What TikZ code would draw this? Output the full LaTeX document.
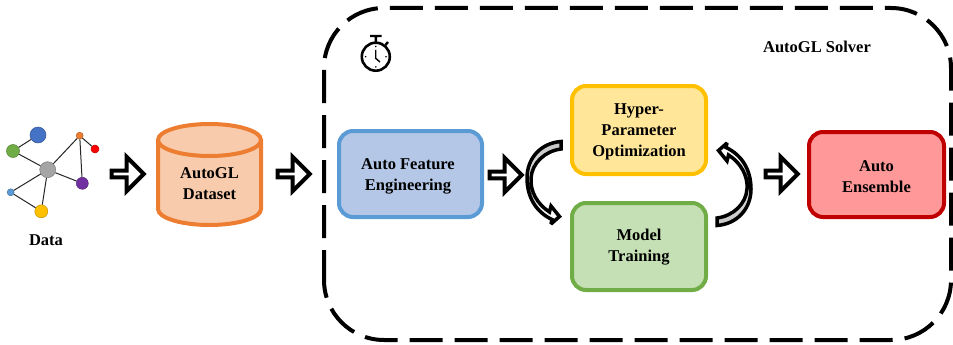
\documentclass[tikz,border=0pt]{standalone}
\usepackage{fontspec}
\setmainfont{Liberation Serif}
\usetikzlibrary{shapes.arrows}
\definecolor{gblue}{HTML}{4472C4}
\definecolor{ggreen}{HTML}{70AD47}
\definecolor{ggray}{HTML}{A5A5A5}
\definecolor{gorange}{HTML}{ED7D31}
\definecolor{gyellow}{HTML}{FFC000}
\definecolor{gpurple}{HTML}{7030A0}
\definecolor{gsky}{HTML}{5B9BD5}
\definecolor{cylfill}{HTML}{F8CBAD}
\definecolor{fblue}{HTML}{B4C7E7}
\definecolor{fyellow}{HTML}{FFE699}
\definecolor{fgreen}{HTML}{C5E0B4}
\definecolor{fred}{HTML}{FF9999}
\definecolor{bred}{HTML}{C00000}
\tikzset{
  lbl/.style={font=\fontsize{16.5}{21}\selectfont\bfseries, align=center, text=black, inner sep=0pt},
  gnode/.style={circle, draw=#1!75!black, fill=#1, line width=0.5pt, inner sep=0pt},
  gedge/.style={draw=black!85, line width=1pt},
  procbox/.style={rounded corners=14pt, line width=4pt, inner sep=0pt},
  blockarrow/.style={single arrow, draw=black, fill=white, line width=4pt, inner sep=0pt, outer sep=0pt,
    minimum height=32pt, minimum width=34pt, single arrow head extend=8pt, single arrow head indent=0pt},
  curvearrow/.style={draw=black, line width=3.5pt, line join=miter, miter limit=3},
}
\begin{document}
\begin{tikzpicture}[x=1pt,y=-1pt]
\useasboundingbox (0,0) rectangle (953,345);
% dashed frame
\draw[line width=4pt, dash pattern=on 33pt off 12pt, dash phase=3pt, rounded corners=60pt] (324,340) -- (324,8) -- (951,8) -- (951,340) -- cycle;
% network
\node[gnode=gblue, minimum size=16pt] (n1) at (38,135) {};
\node[gnode=ggreen, minimum size=13pt] (n2) at (13,151) {};
\node[gnode=ggray, minimum size=16pt] (n3) at (47.7,169.7) {};
\node[gnode=gorange, minimum size=7pt] (n4) at (79.7,135.7) {};
\node[gnode=red, minimum size=8pt] (n5) at (95,149) {};
\node[gnode=gpurple, minimum size=12pt] (n6) at (82.3,183.3) {};
\node[gnode=gsky, minimum size=7pt] (n7) at (10.7,192.3) {};
\node[gnode=gyellow, minimum size=13pt] (n8) at (41.3,211.3) {};
\draw[gedge] (n1)--(n2) (n2)--(n3) (n3)--(n4) (n4)--(n5) (n4)--(n6) (n3)--(n6) (n3)--(n7) (n3)--(n8) (n7)--(n8);
\node[lbl] (data) at (46,240) {Data};
% cylinder
\draw[gorange, fill=cylfill, line width=4pt] (158,140) -- (158,209) arc[start angle=180,end angle=0,x radius=51.5pt,y radius=-16pt] -- (261,140);
\draw[gorange, fill=cylfill, line width=4pt] (209.5,140) ellipse[x radius=51.5pt, y radius=16pt];
\node[lbl] (dataset) at (209.5,184) {AutoGL\\Dataset};
% block arrows
\node[blockarrow] (a1) at (126,174) {};
\node[blockarrow] (a2) at (292,174) {};
\node[blockarrow] (a3) at (504,175) {};
\node[blockarrow] (a4) at (780,174) {};
% boxes
\node[procbox, draw=gsky, fill=fblue, minimum width=143pt, minimum height=86pt] (afe) at (410.5,174) {};
\node[lbl] at (afe.center) [xshift=-2.5pt, yshift=-2pt] {Auto Feature\\Engineering};
\node[procbox, draw=gyellow, fill=fyellow, minimum width=134pt, minimum height=88pt] (hpo) at (639,130) {};
\node[lbl] at (hpo.center) [yshift=-2pt] {Hyper-\\Parameter\\Optimization};
\node[procbox, draw=ggreen, fill=fgreen, minimum width=134pt, minimum height=87pt] (mt) at (639,246.5) {};
\node[lbl] at (mt.center) [yshift=-1pt] {Model\\Training};
\node[procbox, draw=bred, fill=fred, minimum width=135pt, minimum height=85pt] (ens) at (876.5,174.5) {};
\node[lbl] at (ens.center) [yshift=-2pt] {Auto\\Ensemble};
% curved arrows
\draw[curvearrow, top color=gray!45, bottom color=white]
  (561,141.5) .. controls (541,143) and (527,158) .. (527,178)
  .. controls (527,197) and (536,212) .. (552,219.5) -- (551,224) -- (559.5,216.5) -- (551,206) -- (549.5,212)
  .. controls (537,204) and (530,191) .. (531,178)
  .. controls (532,163) and (545,151) .. (561,149) -- cycle;
\draw[curvearrow, top color=white, bottom color=gray!45]
  (717,225.5) .. controls (737,224) and (751,209) .. (751,189)
  .. controls (751,170) and (742,155) .. (726,147.5) -- (727,143) -- (718.5,150.5) -- (727,161) -- (728.5,155)
  .. controls (741,163) and (748,176) .. (747,189)
  .. controls (746,204) and (733,216) .. (717,218) -- cycle;
% stopwatch
\draw[line width=2.6pt] (375.8,56.7) circle[radius=14];
\draw[line width=2.4pt] (370,36) -- (381.7,36) (375.8,36) -- (375.8,42.5) (385.5,45) -- (388,42);
\draw[line width=1.4pt] (375.7,50) -- (375.7,58.3) -- (380,62);
\fill (375.8,46.5) circle[radius=.9] (375.8,66.9) circle[radius=.9] (365.6,56.7) circle[radius=.9] (386,56.7) circle[radius=.9];
\node[lbl] (solver) at (817,47) {AutoGL Solver};
\end{tikzpicture}
\end{document}
